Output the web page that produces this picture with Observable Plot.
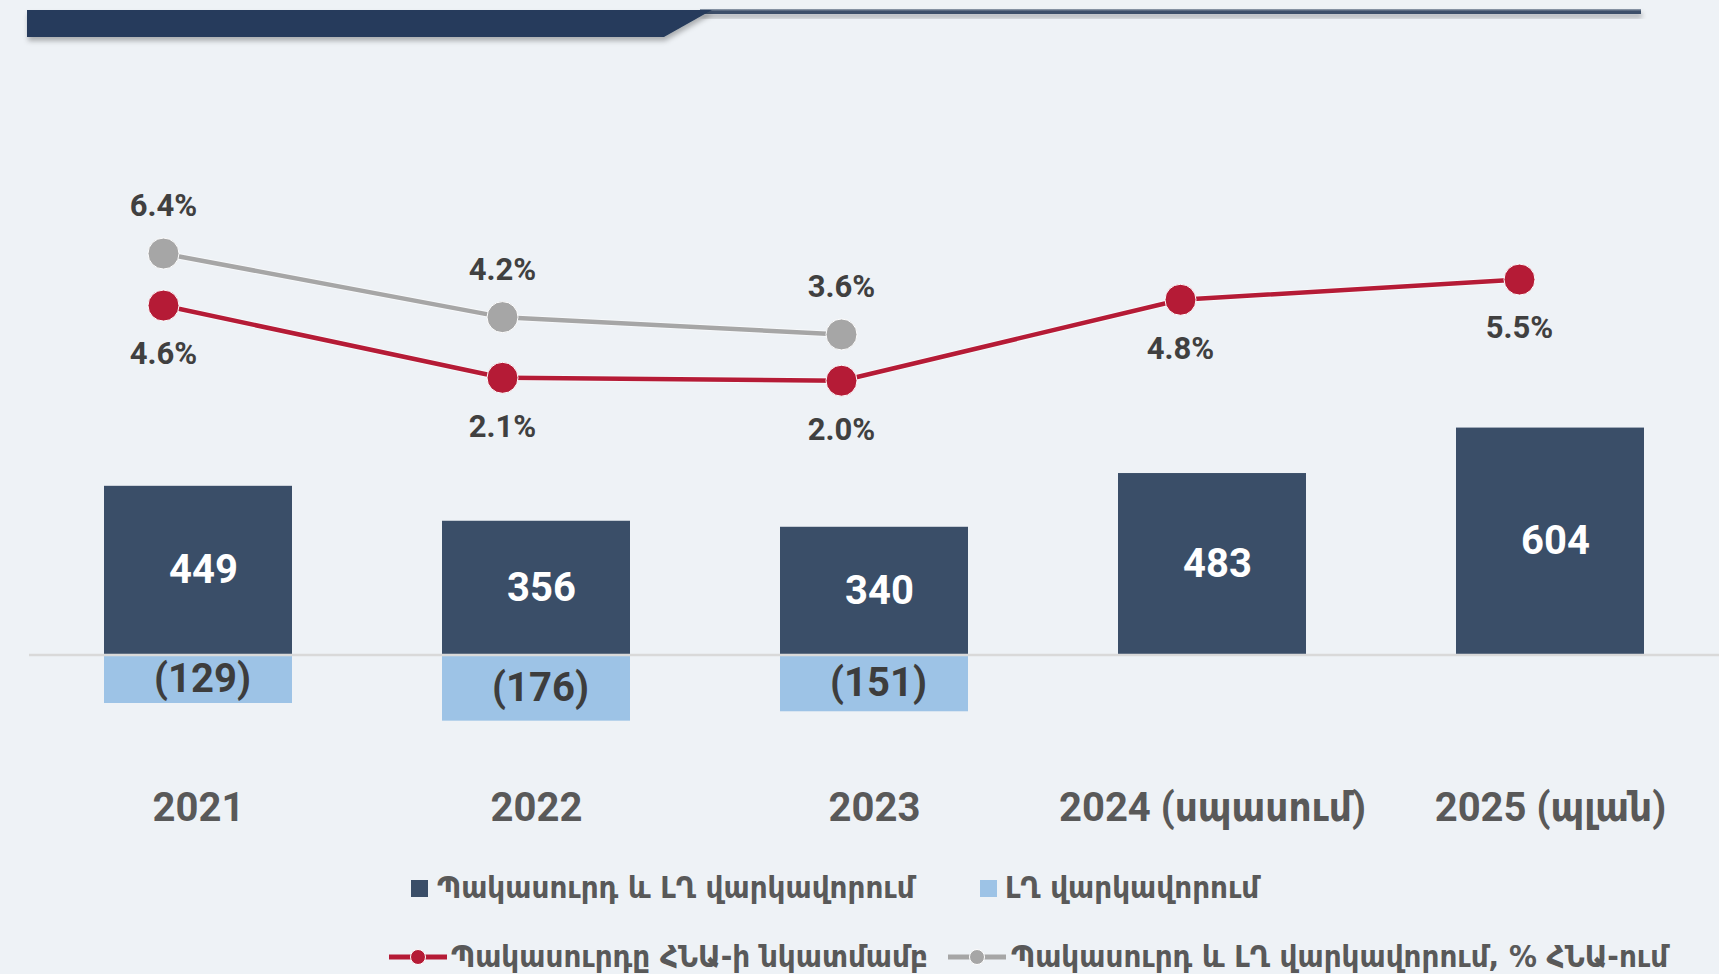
<!DOCTYPE html>
<html>
<head>
<meta charset="utf-8">
<script src="https://cdn.jsdelivr.net/npm/d3@7"></script>
<script src="https://cdn.jsdelivr.net/npm/@observablehq/plot@0.6"></script>
<style>
  html, body { margin: 0; padding: 0; background: #eef2f6; }
  #wrap { position: relative; width: 1719px; height: 974px; overflow: hidden; background: #eef2f6;
          font-family: Roboto, "DejaVu Sans Condensed", "DejaVu Sans", sans-serif; }
  g[aria-label="x-axis tick label"] text { font-weight: 700; }
  .leg { position: absolute; color: #595959; font-family: "DejaVu Sans Condensed", "DejaVu Sans", sans-serif;
         font-weight: 700; font-size: 31px; line-height: 1; white-space: nowrap; }
  .sw { position: absolute; }
</style>
</head>
<body>
<div id="wrap">
  <svg id="header" width="1719" height="60" style="position:absolute;left:0;top:0">
    <defs>
      <filter id="sh" x="-5%" y="-50%" width="110%" height="250%">
        <feDropShadow dx="1" dy="4" stdDeviation="2.5" flood-color="#000" flood-opacity="0.28"/>
      </filter>
      <linearGradient id="lg" x1="0" y1="0" x2="0" y2="1">
        <stop offset="0" stop-color="#9aa5b3"/>
        <stop offset="0.45" stop-color="#3c4f69"/>
        <stop offset="1" stop-color="#3c4f69"/>
      </linearGradient>
    </defs>
    <rect x="700" y="9" width="941" height="5" fill="url(#lg)" filter="url(#sh)"/>
    <polygon points="27,10 712,10 664,37 27,37" fill="#253b5b" filter="url(#sh)"/>
  </svg>
</div>
<script>
// ---- data ----
const years = ["2021", "2022", "2023", "2024 (սպասում)", "2025 (պլան)"];
const deficitAndLoans = [449, 356, 340, 483, 604];          // Պակասուրդ և ԼՂ վարկավորում
const lgLoans = [-129, -176, -151, null, null];             // ԼՂ վարկավորում
const deficitPctGdp = [4.6, 2.1, 2.0, 4.8, 5.5];            // Պակասուրդը ՀՆԱ-ի նկատմամբ
const deficitLoansPctGdp = [6.4, 4.2, 3.6, null, null];     // Պակասուրդ և ԼՂ վարկավորում, % ՀՆԱ-ում
const legendLabels = ["Պակասուրդ և ԼՂ վարկավորում", "ԼՂ վարկավորում",
                      "Պակասուրդը ՀՆԱ-ի նկատմամբ", "Պակասուրդ և ԼՂ վարկավորում, % ՀՆԱ-ում"];

const C_DARK = "#3a4e68", C_LIGHT = "#9dc3e6", C_RED = "#b51b36", C_GREY = "#a6a6a6";

const posRows = years.map((y, i) => ({year: y, value: deficitAndLoans[i]}));
const negRows = years.map((y, i) => ({year: y, value: lgLoans[i]})).filter(d => d.value != null);
const redRows = years.map((y, i) => ({year: y, v: deficitPctGdp[i]}));
const greyRows = years.map((y, i) => ({year: y, v: deficitLoansPctGdp[i]})).filter(d => d.v != null);

const FONT = 'Roboto, "DejaVu Sans Condensed", "DejaVu Sans", sans-serif';
const wrap = document.getElementById("wrap");

// ---- bars ----
const barPlot = Plot.plot({
  width: 1719, height: 860,
  marginLeft: 29, marginRight: 0, marginTop: 391.5, marginBottom: 70.2,
  style: {background: "transparent", fontFamily: FONT, overflow: "visible"},
  x: {type: "band", domain: years, paddingInner: 0.444, paddingOuter: 0.222, label: null},
  y: {domain: [-360, 700], axis: null},
  marks: [
    Plot.barY(posRows, {x: "year", y: "value", fill: C_DARK}),
    Plot.barY(negRows, {x: "year", y: "value", fill: C_LIGHT}),
    Plot.ruleY([0], {stroke: "#d9d9d9", strokeWidth: 2.5}),
    Plot.text(posRows, {x: "year", y: d => d.value / 2, text: d => String(d.value), dx: 5,
      fill: "white", fontSize: 40, fontWeight: 700}),
    Plot.text(negRows, {x: "year", y: d => d.value / 2, text: d => `(${-d.value})`, dx: 4,
      fill: "#3d3d3d", fontSize: 40, fontWeight: 700}),
    Plot.axisX({tickSize: 0, tickPadding: 2, fontSize: 40, fontWeight: 700, fill: "#595959", color: "#595959", label: null})
  ]
});
barPlot.style.position = "absolute"; barPlot.style.left = "0px"; barPlot.style.top = "0px";
wrap.appendChild(barPlot);

// ---- lines (secondary scale, % of GDP) ----
const linePlot = Plot.plot({
  width: 1719, height: 860,
  marginLeft: 26, marginRight: 63, marginTop: 206.8, marginBottom: 422,
  style: {background: "transparent", fontFamily: FONT, overflow: "visible"},
  x: {type: "point", domain: years, padding: 0.4, axis: null},
  y: {domain: [0, 8], axis: null},
  marks: [
    Plot.line(greyRows, {x: "year", y: "v", stroke: "white", strokeWidth: 6.5, strokeOpacity: 0.5}),
    Plot.line(greyRows, {x: "year", y: "v", stroke: C_GREY, strokeWidth: 4.5}),
    Plot.dot(greyRows, {x: "year", y: "v", r: 15.5, fill: C_GREY, stroke: "white", strokeWidth: 1}),
    Plot.line(redRows, {x: "year", y: "v", stroke: "white", strokeWidth: 6.5, strokeOpacity: 0.5}),
    Plot.line(redRows, {x: "year", y: "v", stroke: C_RED, strokeWidth: 4.5}),
    Plot.dot(redRows, {x: "year", y: "v", r: 15.5, fill: C_RED, stroke: "white", strokeWidth: 1}),
    Plot.text(greyRows, {x: "year", y: "v", text: d => d.v.toFixed(1) + "%", dy: -47,
      fontSize: 31, fontWeight: 700, fill: "#404040"}),
    Plot.text(redRows, {x: "year", y: "v", text: d => d.v.toFixed(1) + "%", dy: 49,
      fontSize: 31, fontWeight: 700, fill: "#404040"})
  ]
});
linePlot.style.position = "absolute"; linePlot.style.left = "0px"; linePlot.style.top = "0px";
wrap.appendChild(linePlot);

// ---- legend ----
function addText(txt, left, top) {
  const d = document.createElement("div");
  d.className = "leg"; d.textContent = txt;
  d.style.left = left + "px"; d.style.top = top + "px";
  wrap.appendChild(d);
}
function addSquare(color, left, top) {
  const d = document.createElement("div");
  d.className = "sw";
  Object.assign(d.style, {left: left + "px", top: top + "px", width: "17px", height: "17px", background: color});
  wrap.appendChild(d);
}
function addLineSym(color, left, cy) {
  const ns = "http://www.w3.org/2000/svg";
  const s = document.createElementNS(ns, "svg");
  s.setAttribute("width", 58); s.setAttribute("height", 20);
  s.style.position = "absolute"; s.style.left = left + "px"; s.style.top = (cy - 10) + "px";
  const l = document.createElementNS(ns, "line");
  l.setAttribute("x1", 0); l.setAttribute("x2", 58); l.setAttribute("y1", 10); l.setAttribute("y2", 10);
  l.setAttribute("stroke", color); l.setAttribute("stroke-width", 5);
  const c = document.createElementNS(ns, "circle");
  c.setAttribute("cx", 29); c.setAttribute("cy", 10); c.setAttribute("r", 7.5);
  c.setAttribute("fill", color); c.setAttribute("stroke", "white"); c.setAttribute("stroke-width", 1);
  s.appendChild(l); s.appendChild(c);
  wrap.appendChild(s);
}
addSquare(C_DARK, 411, 880);
addText(legendLabels[0], 437, 872);
addSquare(C_LIGHT, 980, 880);
addText(legendLabels[1], 1005, 872);
addLineSym(C_RED, 389, 957);
addText(legendLabels[2], 451, 941);
addLineSym(C_GREY, 948, 957);
addText(legendLabels[3], 1011, 941);
</script>
</body>
</html>
